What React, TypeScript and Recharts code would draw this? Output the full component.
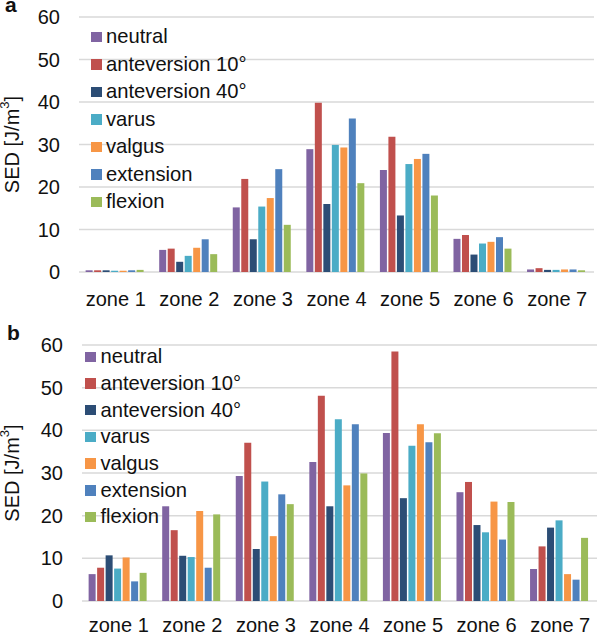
import { Bar, BarChart, CartesianGrid, XAxis, YAxis } from 'recharts'

const zones = ['zone 1', 'zone 2', 'zone 3', 'zone 4', 'zone 5', 'zone 6', 'zone 7']
const yTicks = [0, 10, 20, 30, 40, 50, 60]
const seriesNames = [
  'neutral',
  'anteversion 10°',
  'anteversion 40°',
  'varus',
  'valgus',
  'extension',
  'flexion',
]
const seriesColors = ['#8064A2', '#C0504D', '#2C4D75', '#4BACC6', '#F79646', '#4F81BD', '#9BBB59']

// panel a
const neutralA = [0.4, 5.2, 15.2, 28.9, 24.0, 7.8, 0.6]
const ante10A = [0.4, 5.5, 21.9, 39.8, 31.8, 8.7, 0.9]
const ante40A = [0.4, 2.4, 7.7, 16.0, 13.3, 4.1, 0.5]
const varusA = [0.3, 3.8, 15.4, 29.9, 25.4, 6.7, 0.5]
const valgusA = [0.3, 5.7, 17.4, 29.3, 26.6, 7.1, 0.6]
const extensionA = [0.4, 7.7, 24.2, 36.1, 27.8, 8.2, 0.6]
const flexionA = [0.5, 4.2, 11.1, 20.9, 18.0, 5.5, 0.4]

// panel b
const neutralB = [6.3, 22.2, 29.3, 32.6, 39.4, 25.5, 7.5]
const ante10B = [7.8, 16.6, 37.1, 48.1, 58.5, 27.9, 12.8]
const ante40B = [10.7, 10.6, 12.2, 22.2, 24.1, 17.8, 17.2]
const varusB = [7.6, 10.3, 28.0, 42.6, 36.4, 16.1, 18.9]
const valgusB = [10.2, 21.1, 15.2, 27.1, 41.4, 23.3, 6.3]
const extensionB = [4.6, 7.8, 25.0, 41.4, 37.2, 14.4, 5.0]
const flexionB = [6.6, 20.3, 22.7, 29.9, 39.3, 23.2, 14.8]

const seriesA = [neutralA, ante10A, ante40A, varusA, valgusA, extensionA, flexionA]
const seriesB = [neutralB, ante10B, ante40B, varusB, valgusB, extensionB, flexionB]

const buildRows = (series: number[][]) =>
  zones.map((zone, i) => {
    const row: Record<string, string | number> = { zone }
    series.forEach((values, s) => {
      row[`s${s}`] = values[i]
    })
    return row
  })

const FONT = '"Liberation Sans", Arial, sans-serif'
const TEXT = '#111'

type PanelProps = {
  series: number[][]
  left: number
  right: number
  top: number
  plotHeight: number
  tickMargin: number
  labelX: number
  legendTop: number
  legendLeft: number
  legendRow: number
  legendGap: number
}

function Panel(p: PanelProps) {
  const data = buildRows(p.series)
  const height = 317
  return (
    <div style={{ position: 'relative', width: 597, height }}>
      <BarChart
        width={597}
        height={height}
        data={data}
        margin={{ top: p.top, right: p.right, bottom: 0, left: 0 }}
        barCategoryGap="9%"
        barGap={1.5}
      >
        <CartesianGrid vertical={false} stroke="#D9D9D9" strokeWidth={1.5} />
        <XAxis
          dataKey="zone"
          axisLine={false}
          tickLine={false}
          tickSize={0}
          tickMargin={p.tickMargin}
          height={height - p.top - p.plotHeight}
          tick={{ fill: TEXT, fontSize: 20, fontFamily: FONT }}
          interval={0}
        />
        <YAxis
          domain={[0, 60]}
          ticks={yTicks}
          axisLine={false}
          tickLine={false}
          tickSize={0}
          tickMargin={19}
          width={p.left}
          tick={{ fill: TEXT, fontSize: 20, fontFamily: FONT }}
          label={({ viewBox }: any) => {
            const cy = viewBox.y + viewBox.height / 2
            return (
              <text
                x={p.labelX}
                y={cy}
                transform={`rotate(-90, ${p.labelX}, ${cy})`}
                textAnchor="middle"
                dominantBaseline="central"
                fill={TEXT}
                fontSize={20}
                fontFamily={FONT}
              >
                SED [J/m
                <tspan fontSize={13} dy={-8}>
                  3
                </tspan>
                <tspan dy={8}>]</tspan>
              </text>
            )
          }}
        />
        {seriesNames.map((name, s) => (
          <Bar
            key={name}
            dataKey={`s${s}`}
            name={name}
            fill={seriesColors[s]}
            isAnimationActive={false}
          />
        ))}
      </BarChart>
      <div
        style={{
          position: 'absolute',
          top: p.legendTop,
          left: p.legendLeft,
          fontFamily: FONT,
          fontSize: 20.2,
          color: TEXT,
          whiteSpace: 'nowrap',
        }}
      >
        {seriesNames.map((name, s) => (
          <div
            key={name}
            style={{ height: p.legendRow, display: 'flex', alignItems: 'center' }}
          >
            <span
              style={{
                display: 'inline-block',
                width: 10.5,
                height: 10.5,
                background: seriesColors[s],
                marginRight: p.legendGap,
              }}
            />
            <span>{name}</span>
          </div>
        ))}
      </div>
    </div>
  )
}

export default function App() {
  return (
    <div
      style={{
        position: 'absolute',
        left: 0,
        top: 0,
        width: 597,
        height: 634,
        background: '#fff',
      }}
    >
      <Panel
        series={seriesA}
        left={79}
        right={3}
        top={17}
        plotHeight={255}
        tickMargin={20}
        labelX={12}
        legendTop={23}
        legendLeft={91}
        legendRow={27.5}
        legendGap={4.5}
      />
      <Panel
        series={seriesB}
        left={82}
        right={0}
        top={28}
        plotHeight={256}
        tickMargin={17}
        labelX={12}
        legendTop={26.5}
        legendLeft={85}
        legendRow={26.7}
        legendGap={5}
      />
      <div
        style={{
          position: 'absolute',
          left: 5,
          top: -6,
          fontFamily: FONT,
          fontWeight: 'bold',
          fontSize: 21,
          lineHeight: '21px',
          color: TEXT,
        }}
      >
        a
      </div>
      <div
        style={{
          position: 'absolute',
          left: 7,
          top: 322,
          fontFamily: FONT,
          fontWeight: 'bold',
          fontSize: 21,
          lineHeight: '21px',
          color: TEXT,
        }}
      >
        b
      </div>
    </div>
  )
}
